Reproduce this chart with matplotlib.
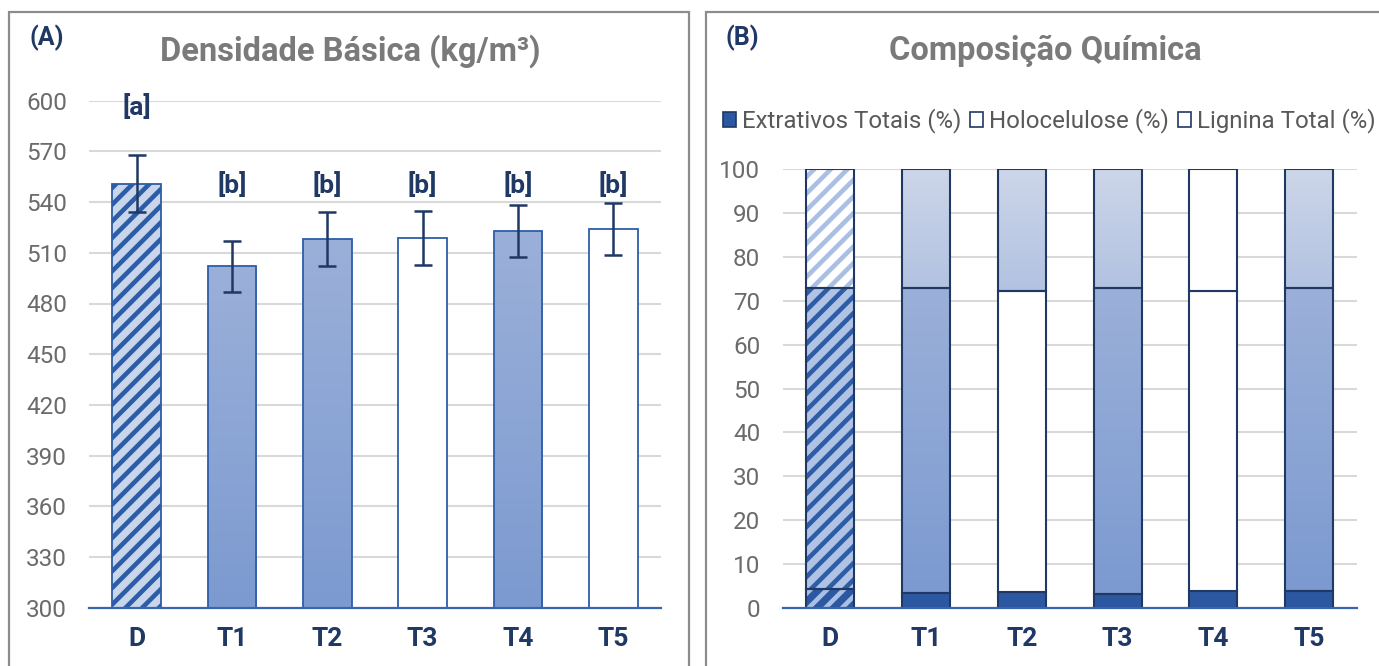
import numpy as np
import matplotlib
matplotlib.use("Agg")
import matplotlib.pyplot as plt
from matplotlib.patches import Patch, Rectangle
from matplotlib.colors import LinearSegmentedColormap

plt.rcParams['font.family'] = ['Roboto', 'DejaVu Sans']
plt.rcParams['hatch.linewidth'] = 3.3

# ---- dados ----
cats = ['D', 'T1', 'T2', 'T3', 'T4', 'T5']
dens = [551, 502, 518, 519, 523, 524]
dens_err = [17, 15, 16, 16, 15.5, 15.5]
letters = ['[a]', '[b]', '[b]', '[b]', '[b]', '[b]']

extrativos = [4.3, 3.5, 3.7, 3.3, 3.8, 3.8]
holocelulose = [68.7, 69.3, 68.4, 69.6, 68.4, 69.2]
lignina = [27.0, 27.2, 27.9, 27.1, 27.8, 27.0]

# ---- estilos ----
NAVY = '#1F3864'
BLUE = '#2E5DA8'
GRAY_T = '#6b6b6b'
MED = ('#9bb0d9', '#7c9ad0')     # topo, base
LIGHT = ('#cdd6e9', '#b2c2e1')
DARK = '#2c58a2'
HATCH = '//'


def grad_bar(ax, x, bottom, h, w, cols, edge, lw):
    ax.bar(x, h, w, bottom=bottom, color='none', edgecolor=edge, lw=lw, zorder=4)
    img = np.linspace(0, 1, 256).reshape(-1, 1)
    cmap = LinearSegmentedColormap.from_list('g', [cols[1], cols[0]])
    ax.imshow(img, cmap=cmap, extent=[x - w / 2, x + w / 2, bottom, bottom + h],
              origin='lower', aspect='auto', zorder=2, interpolation='bilinear')


def hatch_bar(ax, x, bottom, h, w, bg, stripe, edge, lw):
    ax.bar(x, h, w, bottom=bottom, color=bg, edgecolor=stripe, hatch=HATCH, lw=0, zorder=2)
    ax.bar(x, h, w, bottom=bottom, fill=False, edgecolor=edge, lw=lw, zorder=4)


def plain_bar(ax, x, bottom, h, w, fc, edge, lw):
    ax.bar(x, h, w, bottom=bottom, color=fc, edgecolor=edge, lw=lw, zorder=3)


def style_ax(ax, ticks):
    for s in ['top', 'left', 'right']:
        ax.spines[s].set_visible(False)
    ax.spines['bottom'].set_color('#3a66b0')
    ax.spines['bottom'].set_linewidth(1.6)
    ax.spines['bottom'].set_zorder(6)
    ax.set_yticks(ticks)
    ax.yaxis.grid(True, color='#d9d9d9', lw=1.5, zorder=0)
    ax.set_axisbelow(True)
    ax.tick_params(axis='both', length=0)
    ax.tick_params(axis='y', labelsize=17.5, labelcolor=GRAY_T, pad=16)
    ax.tick_params(axis='x', pad=14)
    ax.set_xticks(range(len(cats)))
    ax.set_xticklabels(cats, fontsize=19, fontweight='bold', color=NAVY)
    ax.set_xlim(-0.5, len(cats) - 0.5)


W, H = 1379, 666
fig = plt.figure(figsize=(W / 100, H / 100), dpi=100)

# molduras
fig.patches.append(Rectangle((9 / W, -0.1), 680 / W, 1.1 - 12 / H, transform=fig.transFigure,
                             fill=False, edgecolor='#8c8c8c', lw=1.6))
fig.patches.append(Rectangle((706 / W, -0.1), 0.5, 1.1 - 12 / H, transform=fig.transFigure,
                             fill=False, edgecolor='#8c8c8c', lw=1.6))

# ---- (A) densidade ----
ax1 = fig.add_axes([89 / W, (H - 607.7) / H, 572 / W, 507 / H])
bw = 0.51
for i, v in enumerate(dens):
    if i == 0:
        hatch_bar(ax1, i, 300, v - 300, bw, '#c8d5ea', BLUE, BLUE, 1.3)
    elif cats[i] in ('T3', 'T5'):
        plain_bar(ax1, i, 300, v - 300, bw, 'white', BLUE, 1.3)
    else:
        grad_bar(ax1, i, 300, v - 300, bw, MED, BLUE, 1.3)
ax1.errorbar(range(len(cats)), dens, yerr=dens_err, fmt='none', ecolor=NAVY,
             elinewidth=1.8, capsize=6.5, capthick=1.8, zorder=5)
for i, t in enumerate(letters):
    yl = 596 if t == '[a]' else 550
    ax1.text(i, yl, t, ha='center', va='center', fontsize=19, fontweight='bold', color=NAVY)
style_ax(ax1, np.arange(300, 601, 30))
ax1.set_ylim(300, 600)

# ---- (B) composição ----
ax2 = fig.add_axes([782.5 / W, (H - 608) / H, 574.5 / W, 439 / H])
bw2 = 0.5
for i in range(len(cats)):
    e, h, l = extrativos[i], holocelulose[i], lignina[i]
    if i == 0:
        hatch_bar(ax2, i, 0, e, bw2, DARK, '#a9c0e4', NAVY, 1.5)
        hatch_bar(ax2, i, e, h, bw2, '#b1c3e4', BLUE, NAVY, 1.5)
        hatch_bar(ax2, i, e + h, l, bw2, 'white', '#a9c0e4', NAVY, 1.5)
        continue
    plain_bar(ax2, i, 0, e, bw2, DARK, NAVY, 1.5)
    if cats[i] in ('T2', 'T4'):
        plain_bar(ax2, i, e, h, bw2, 'white', NAVY, 1.5)
    else:
        grad_bar(ax2, i, e, h, bw2, MED, NAVY, 1.5)
    if cats[i] == 'T4':
        plain_bar(ax2, i, e + h, l, bw2, 'white', NAVY, 1.5)
    else:
        grad_bar(ax2, i, e + h, l, bw2, LIGHT, NAVY, 1.5)
style_ax(ax2, np.arange(0, 101, 10))
ax2.set_ylim(0, 100)

handles = [Patch(facecolor=DARK, edgecolor=NAVY, lw=1.2),
           Patch(facecolor='white', edgecolor=NAVY, lw=1.2),
           Patch(facecolor='white', edgecolor=NAVY, lw=1.2)]
fig.legend(handles, ['Extrativos Totais (%)', 'Holocelulose (%)', 'Lignina Total (%)'],
           loc='center left', bbox_to_anchor=(711 / W, 1 - 121 / H), ncol=3, frameon=False,
           fontsize=17.3, labelcolor='#595959', handlelength=0.55, handleheight=0.55,
           handletextpad=0.25, columnspacing=0.35, borderpad=0)

# títulos
fig.text(350 / W, 1 - 51 / H, 'Densidade Básica (kg/m³)', ha='center', va='center',
         fontsize=23.5, fontweight='bold', color='#7a7a7a')
fig.text(1045 / W, 1 - 51 / H, 'Composição Química', ha='center', va='center',
         fontsize=23.5, fontweight='bold', color='#7a7a7a')
fig.text(47 / W, 1 - 38 / H, '(A)', ha='center', va='center', fontsize=18,
         fontweight='bold', color=NAVY)
fig.text(742 / W, 1 - 38 / H, '(B)', ha='center', va='center', fontsize=18,
         fontweight='bold', color=NAVY)

fig.savefig('out.png', dpi=100)
